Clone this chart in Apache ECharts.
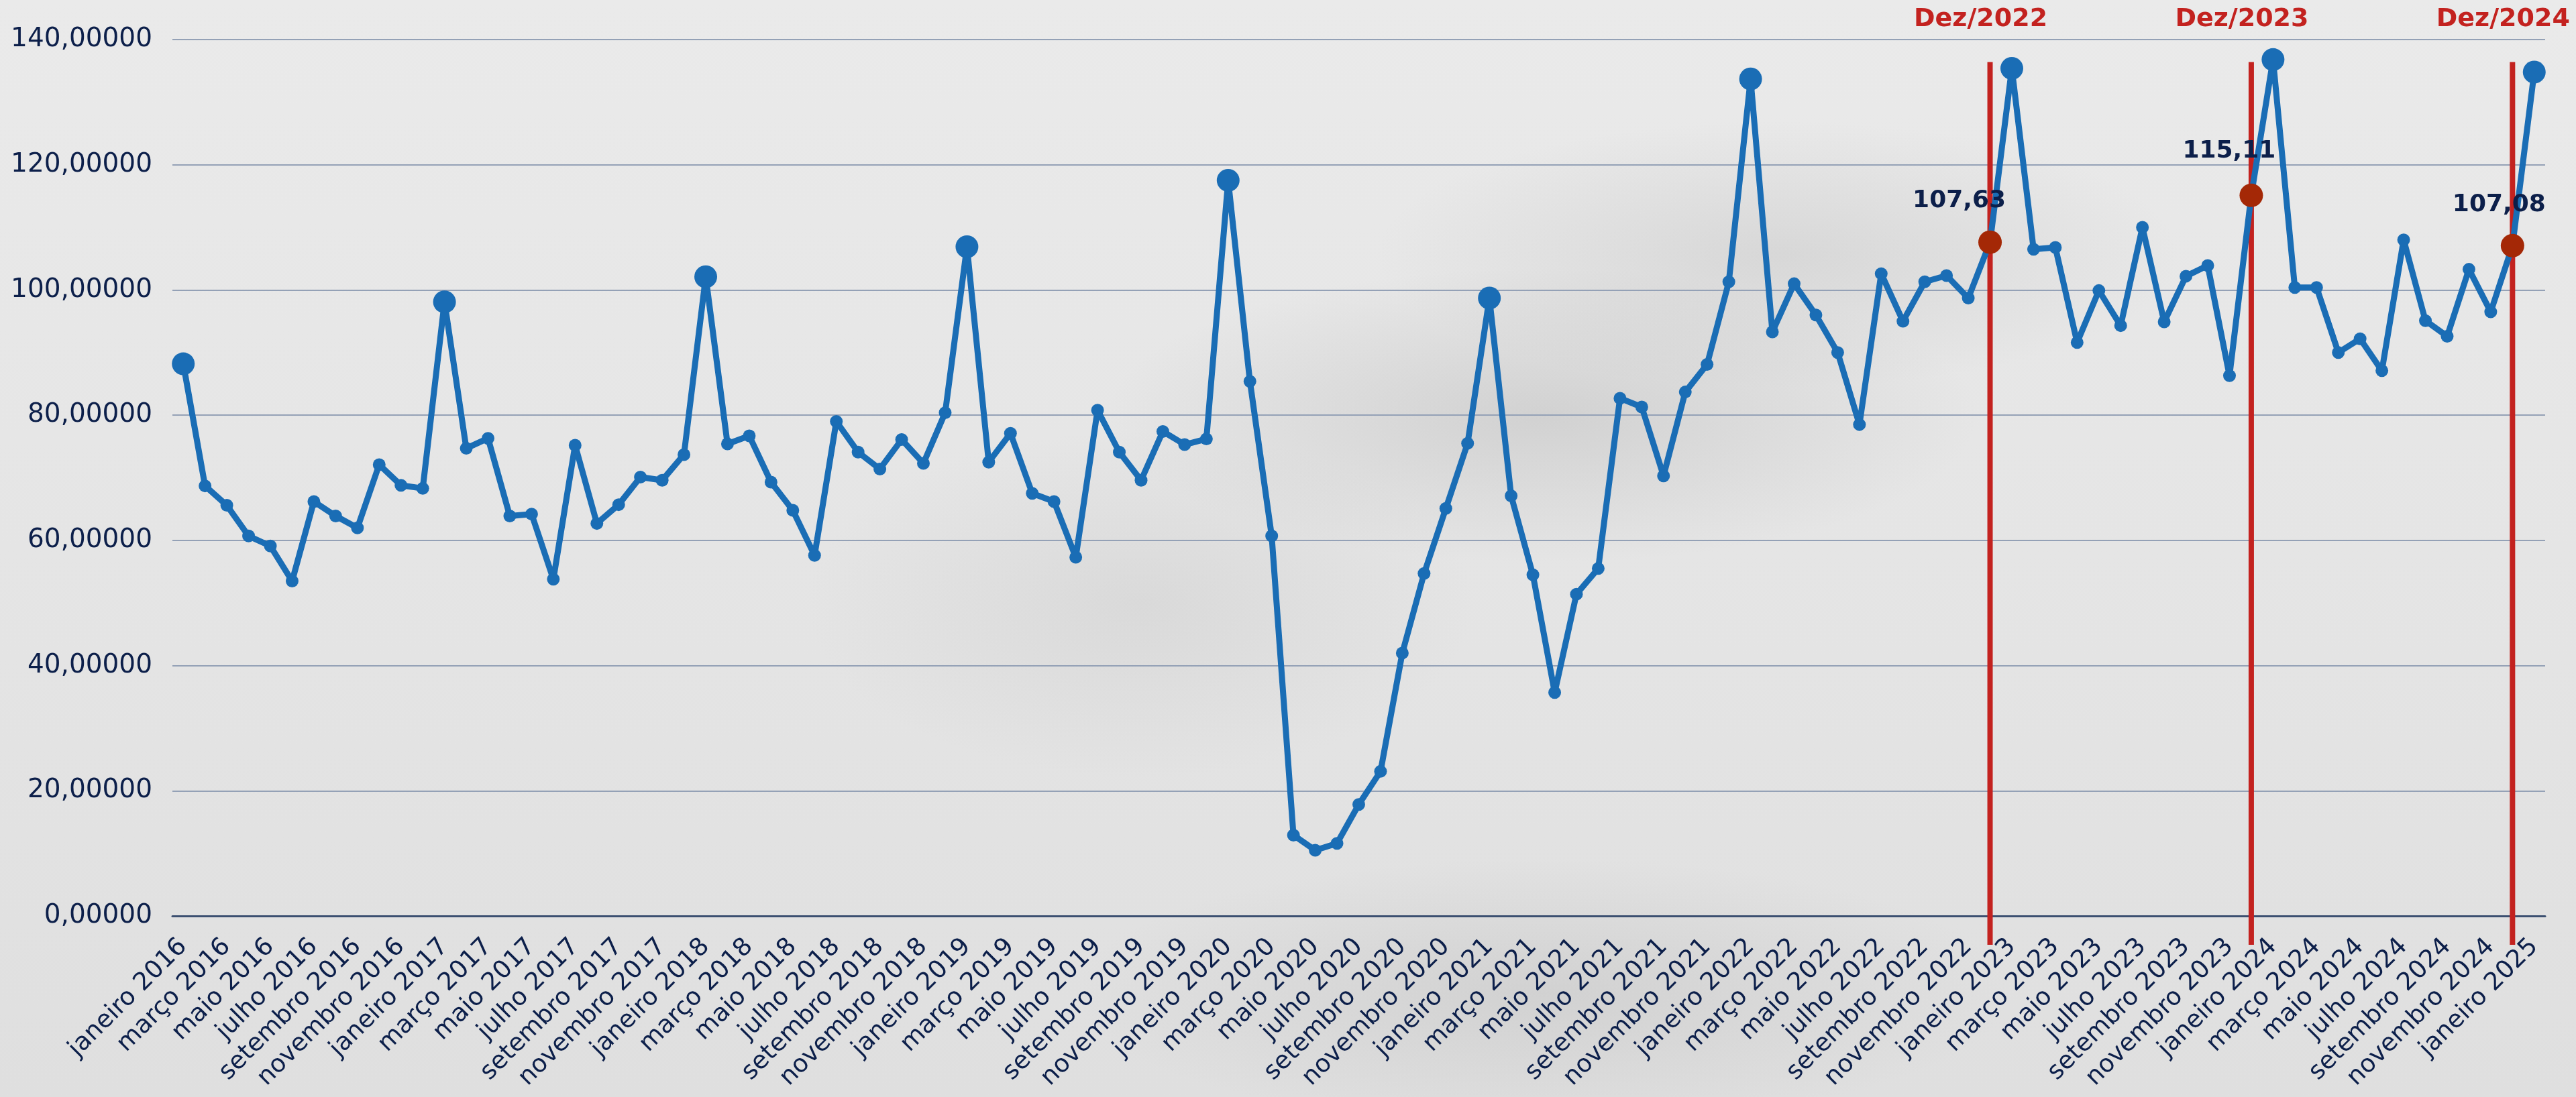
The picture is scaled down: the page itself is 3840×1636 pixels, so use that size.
<!DOCTYPE html>
<html>
<head>
<meta charset="utf-8">
<script src="https://cdn.jsdelivr.net/npm/echarts/dist/echarts.min.js"></script>
<style>
html,body{margin:0;padding:0;width:3840px;height:1636px;overflow:hidden;}
#bg{position:absolute;left:0;top:0;width:3840px;height:1636px;
background:
 radial-gradient(ellipse 650px 220px at 2300px 620px, rgba(150,150,150,0.26), rgba(150,150,150,0) 100%),
 radial-gradient(ellipse 600px 200px at 2650px 380px, rgba(150,150,150,0.20), rgba(150,150,150,0) 100%),
 radial-gradient(ellipse 700px 200px at 2300px 1480px, rgba(150,150,150,0.20), rgba(150,150,150,0) 100%),
 radial-gradient(ellipse 500px 260px at 1700px 900px, rgba(160,160,160,0.16), rgba(160,160,160,0) 100%),
 linear-gradient(180deg, #eaeaea 0%, #e4e4e4 60%, #dfdfdf 100%);}
#chart{position:absolute;left:0;top:0;width:3840px;height:1636px;}
</style>
</head>
<body>
<div id="bg"></div>
<div id="chart"></div>
<script>
const categories = [
 'janeiro 2016','fevereiro 2016','março 2016','abril 2016','maio 2016','junho 2016','julho 2016','agosto 2016','setembro 2016','outubro 2016','novembro 2016','dezembro 2016',
 'janeiro 2017','fevereiro 2017','março 2017','abril 2017','maio 2017','junho 2017','julho 2017','agosto 2017','setembro 2017','outubro 2017','novembro 2017','dezembro 2017',
 'janeiro 2018','fevereiro 2018','março 2018','abril 2018','maio 2018','junho 2018','julho 2018','agosto 2018','setembro 2018','outubro 2018','novembro 2018','dezembro 2018',
 'janeiro 2019','fevereiro 2019','março 2019','abril 2019','maio 2019','junho 2019','julho 2019','agosto 2019','setembro 2019','outubro 2019','novembro 2019','dezembro 2019',
 'janeiro 2020','fevereiro 2020','março 2020','abril 2020','maio 2020','junho 2020','julho 2020','agosto 2020','setembro 2020','outubro 2020','novembro 2020','dezembro 2020',
 'janeiro 2021','fevereiro 2021','março 2021','abril 2021','maio 2021','junho 2021','julho 2021','agosto 2021','setembro 2021','outubro 2021','novembro 2021','dezembro 2021',
 'janeiro 2022','fevereiro 2022','março 2022','abril 2022','maio 2022','junho 2022','julho 2022','agosto 2022','setembro 2022','outubro 2022','novembro 2022','dezembro 2022',
 'janeiro 2023','fevereiro 2023','março 2023','abril 2023','maio 2023','junho 2023','julho 2023','agosto 2023','setembro 2023','outubro 2023','novembro 2023','dezembro 2023',
 'janeiro 2024','fevereiro 2024','março 2024','abril 2024','maio 2024','junho 2024','julho 2024','agosto 2024','setembro 2024','outubro 2024','novembro 2024','dezembro 2024',
 'janeiro 2025'
];

const values = [
 88.2, 68.7, 65.6, 60.7, 59.1, 53.5, 66.2, 63.9, 62.0, 72.1, 68.8, 68.3,
 98.1, 74.7, 76.3, 63.9, 64.2, 53.8, 75.2, 62.7, 65.7, 70.1, 69.6, 73.7,
 102.1, 75.4, 76.7, 69.3, 64.8, 57.6, 79.0, 74.1, 71.4, 76.1, 72.3, 80.4,
 106.9, 72.5, 77.1, 67.5, 66.2, 57.3, 80.8, 74.1, 69.6, 77.4, 75.3, 76.2,
 117.5, 85.4, 60.7, 12.9, 10.5, 11.6, 17.8, 23.1, 42.0, 54.7, 65.1, 75.5,
 98.7, 67.1, 54.5, 35.7, 51.4, 55.5, 82.7, 81.3, 70.3, 83.7, 88.1, 101.3,
 133.7, 93.3, 101.0, 96.0, 90.0, 78.5, 102.6, 95.0, 101.3, 102.3, 98.7, 107.63,
 135.4, 106.5, 106.8, 91.6, 99.9, 94.3, 110.0, 94.9, 102.2, 103.9, 86.3, 115.11,
 136.8, 100.4, 100.4, 90.0, 92.2, 87.1, 108.0, 95.1, 92.6, 103.3, 96.5, 107.08,
 134.8
];

const highlightCategories = ['dezembro 2022', 'dezembro 2023', 'dezembro 2024'];
const highlightHeaders = ['Dez/2022', 'Dez/2023', 'Dez/2024'];
const yTicks = [0, 20, 40, 60, 80, 100, 120, 140];

const BLUE = '#1a6db5';
const DARKRED = '#a42806';
const LINERED = '#c3221f';
const NAVY = '#0c1f4a';
const labelOffsets = [[-46, -62], [-33, -66], [-20, -61]];

const highlightIdx = highlightCategories.map(c => categories.indexOf(c));

const seriesData = values.map((v, i) => {
  const hk = highlightIdx.indexOf(i);
  if (hk >= 0) {
    return {
      value: v,
      symbolSize: 35,
      itemStyle: { color: DARKRED },
      label: {
        show: true,
        position: 'inside',
        offset: labelOffsets[hk],
        formatter: p => p.value.toFixed(2).replace('.', ','),
        fontFamily: 'DejaVu Sans',
        fontWeight: 'bold',
        fontSize: 36,
        color: NAVY
      }
    };
  }
  if (categories[i].indexOf('janeiro') === 0) {
    return { value: v, symbolSize: 34 };
  }
  return v;
});

const chart = echarts.init(document.getElementById('chart'), null, { renderer: 'canvas' });

const option = {
  backgroundColor: 'transparent',
  animation: false,
  grid: { left: 257, top: 59, width: 3537, height: 1307, containLabel: false },
  xAxis: {
    type: 'category',
    data: categories,
    boundaryGap: true,
    axisTick: { show: false },
    axisLine: { show: true, lineStyle: { color: '#3b4f70', width: 3 } },
    axisLabel: {
      interval: 1,
      rotate: 45,
      margin: 40,
      fontFamily: 'DejaVu Sans',
      fontSize: 37,
      color: NAVY
    },
    splitLine: { show: false }
  },
  yAxis: {
    type: 'value',
    min: yTicks[0],
    max: yTicks[yTicks.length - 1],
    interval: yTicks[1] - yTicks[0],
    axisLine: { show: false },
    axisTick: { show: false },
    axisLabel: {
      margin: 30,
      fontFamily: 'DejaVu Sans',
      fontSize: 39,
      color: NAVY,
      formatter: v => v.toFixed(5).replace('.', ',')
    },
    splitLine: { show: true, lineStyle: { color: '#94a1b6', width: 2 } }
  },
  series: [{
    type: 'line',
    data: seriesData,
    symbol: 'circle',
    symbolSize: 19,
    showSymbol: true,
    showAllSymbol: true,
    lineStyle: { color: BLUE, width: 9 },
    itemStyle: { color: BLUE },
    z: 5
  }]
};

chart.setOption(option);

const lineTopValue = 136.4;
const lineBottomValue = -4.6;
const graphics = [];
highlightIdx.forEach((idx, k) => {
  const pTop = chart.convertToPixel({ gridIndex: 0 }, [idx, lineTopValue]);
  const pBot = chart.convertToPixel({ gridIndex: 0 }, [idx, lineBottomValue]);
  graphics.push({
    type: 'line',
    z: 1,
    shape: { x1: pTop[0], y1: pTop[1], x2: pBot[0], y2: pBot[1] },
    style: { stroke: LINERED, lineWidth: 8 }
  });
  graphics.push({
    type: 'text',
    z: 1,
    x: pTop[0] - 14,
    y: 29,
    style: {
      text: highlightHeaders[k],
      fill: LINERED,
      font: 'bold 38px "DejaVu Sans"',
      textAlign: 'center',
      textVerticalAlign: 'middle'
    }
  });
});
chart.setOption({ graphic: graphics });
</script>
</body>
</html>
